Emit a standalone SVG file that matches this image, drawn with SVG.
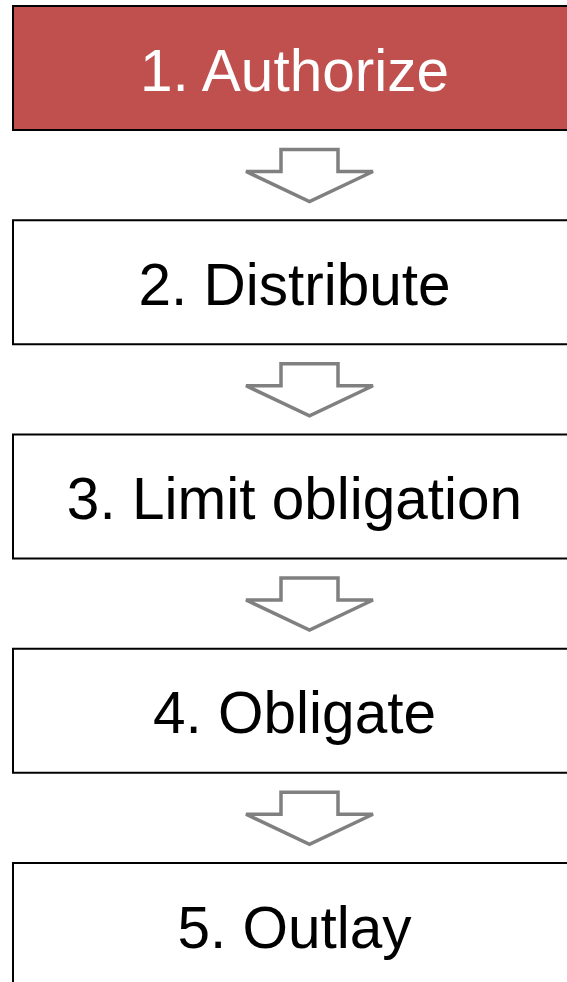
<svg xmlns="http://www.w3.org/2000/svg" width="567" height="982" viewBox="0 0 567 982">
<style>
.box{fill:#fff;stroke:#000;stroke-width:2}
.red{fill:#C0504D}
.t{font-family:"Liberation Sans",Arial,sans-serif;font-size:58.5px;text-anchor:middle;fill:#000}
.w{fill:#fff}
.arr{fill:#fff;stroke:#808080;stroke-width:3.5;stroke-linejoin:miter}
</style>
<defs>
<path id="a" d="M281,0 H338 V22 H373 L309.5,52 L246,22 H281 Z"/>
</defs>
<g id="n1"><rect class="box red" x="13" y="6" width="565" height="124"/><text class="t w" x="294.5" y="90.5">1. Authorize</text></g>
<g id="n2"><rect class="box" x="13" y="220.25" width="565" height="124"/><text class="t" x="294.5" y="304.75">2. Distribute</text></g>
<g id="n3"><rect class="box" x="13" y="434.5" width="565" height="124"/><text class="t" x="294.5" y="519">3. Limit obligation</text></g>
<g id="n4"><rect class="box" x="13" y="648.75" width="565" height="124"/><text class="t" x="294.5" y="733.25">4. Obligate</text></g>
<g id="n5"><rect class="box" x="13" y="863" width="565" height="124"/><text class="t" x="294.5" y="947.5">5. Outlay</text></g>
<g id="connectors">
<use href="#a" class="arr" y="149.5"/>
<use href="#a" class="arr" y="363.75"/>
<use href="#a" class="arr" y="578"/>
<use href="#a" class="arr" y="792.25"/>
</g>
</svg>
